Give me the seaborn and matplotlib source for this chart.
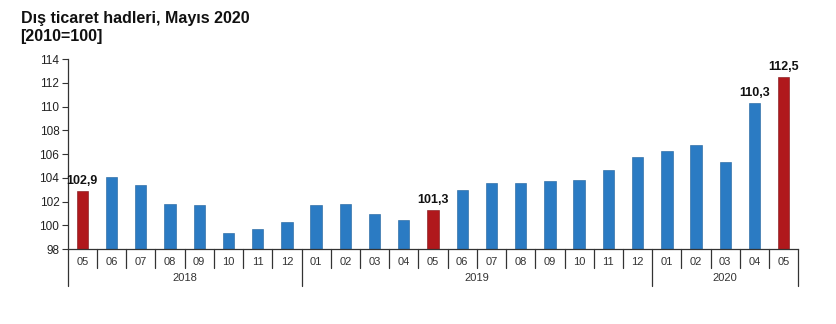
import matplotlib
matplotlib.use("Agg")
import matplotlib.pyplot as plt
import seaborn as sns
import pandas as pd

months = ["05", "06", "07", "08", "09", "10", "11", "12",
          "01", "02", "03", "04", "05", "06", "07", "08", "09", "10", "11", "12",
          "01", "02", "03", "04", "05"]
years = ["2018"] * 8 + ["2019"] * 12 + ["2020"] * 5
values = [102.9, 104.1, 103.4, 101.8, 101.7, 99.4, 99.7, 100.3,
          101.7, 101.8, 101.0, 100.5, 101.3, 103.0, 103.6, 103.6, 103.7, 103.8, 104.7, 105.8,
          106.3, 106.8, 105.3, 110.3, 112.5]
labelled = {0: "102,9", 12: "101,3", 23: "110,3", 24: "112,5"}
red_bars = {0, 12, 24}
year_names = ["2018", "2019", "2020"]

BLUE = "#2B7BC3"
RED = "#B0181C"

df = pd.DataFrame({
    "period": [f"{y}-{m}" for y, m in zip(years, months)],
    "value": values,
})
colors = [RED if i in red_bars else BLUE for i in range(len(values))]

sns.set_style("white")
plt.rcParams["font.family"] = ["Liberation Sans", "DejaVu Sans"]

fig = plt.figure(figsize=(8.37, 3.24), dpi=100)
ax = fig.add_axes([0.0809, 0.2306, 0.9538 - 0.0809, 0.8179 - 0.2306])

sns.barplot(data=df, x="period", y="value", hue="period", palette=colors,
            legend=False, width=0.39, ax=ax, saturation=1,
            edgecolor="#1d5f9a", linewidth=0.4)
for i, p in enumerate(ax.patches):
    if i in red_bars:
        p.set_edgecolor("#7d1013")

ax.set_ylim(98, 114)
ax.set_xlim(-0.5, len(values) - 0.5)
ax.set_yticks(range(98, 115, 2))
ax.set_xticks([])
ax.set_xlabel("")
ax.set_ylabel("")
ax.tick_params(axis="y", left=True, length=4, width=0.8, color="#333333",
               labelsize=8.5, labelcolor="#222222", pad=2)
for side in ("top", "right"):
    ax.spines[side].set_visible(False)
for side in ("left", "bottom"):
    ax.spines[side].set_color("#333333")
    ax.spines[side].set_linewidth(0.9)

# value labels above highlighted bars
for i, txt in labelled.items():
    ax.text(i, values[i] + 0.3, txt, ha="center", va="bottom",
            fontsize=9, fontweight="bold", color="#111111")

# two-level category axis: months and years with separators
tr = ax.get_xaxis_transform()
month_sep = -0.098
year_sep = -0.191
year_bounds = [0]
for i in range(1, len(years)):
    if years[i] != years[i - 1]:
        year_bounds.append(i)
year_bounds.append(len(years))

for b in range(len(values) + 1):
    x = b - 0.5
    depth = year_sep if b in year_bounds else month_sep
    ax.plot([x, x], [0, depth], transform=tr, color="#333333",
            lw=0.9, clip_on=False)

for i, m in enumerate(months):
    ax.text(i, -0.065, m, transform=tr, ha="center", va="center",
            fontsize=8, color="#333333")

for k, yname in enumerate(year_names):
    mid = (year_bounds[k] + year_bounds[k + 1] - 1) / 2
    ax.text(mid, -0.151, yname, transform=tr, ha="center", va="center",
            fontsize=8, color="#333333")

fig.text(0.0245, 1 - 23 / 324, "Dış ticaret hadleri, Mayıs 2020",
         fontsize=11.5, fontweight="bold", ha="left", va="baseline", color="#111111")
fig.text(0.0245, 1 - 41 / 324, "[2010=100]",
         fontsize=11.5, fontweight="bold", ha="left", va="baseline", color="#111111")

fig.savefig("out.png", dpi=100)
